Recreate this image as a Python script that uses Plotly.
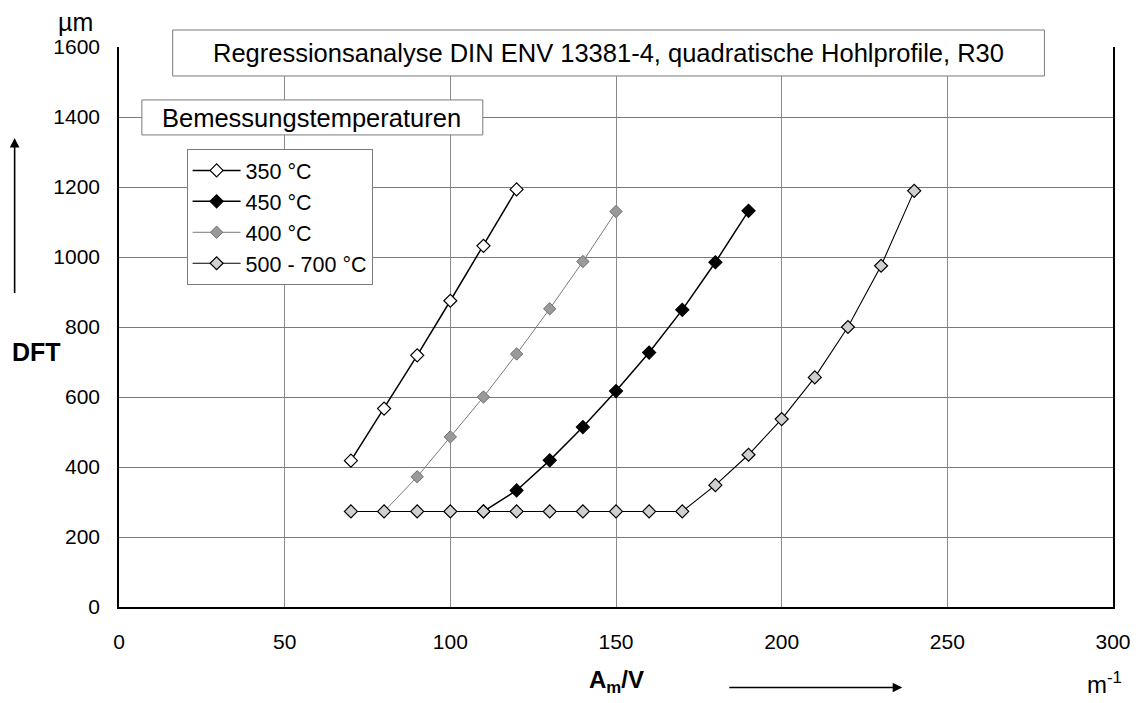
import plotly.graph_objects as go

# ---- data ----
x_350 = [70, 80, 90, 100, 110, 120]
y_350 = [418, 567, 719, 875, 1032, 1193]

x_450 = [110, 120, 130, 140, 150, 160, 170, 180, 190]
y_450 = [273, 333, 419, 514, 617, 727, 849, 985, 1132]

x_400 = [80, 90, 100, 110, 120, 130, 140, 150]
y_400 = [273, 372, 486, 600, 723, 852, 987, 1130]

x_500 = [70, 80, 90, 100, 110, 120, 130, 140, 150, 160, 170, 180, 190, 200, 210, 220, 230, 240]
y_500 = [273, 273, 273, 273, 273, 273, 273, 273, 273, 273, 273, 348, 435, 537, 656, 800, 975, 1189]

x_ticks = [0, 50, 100, 150, 200, 250, 300]
y_ticks = [0, 200, 400, 600, 800, 1000, 1200, 1400, 1600]

FONT = "Liberation Sans, Arial, sans-serif"

# page body has an 8px margin: figure spans page x 8..1143, y 8..703
OFF = 8
W, H = 1143 - OFF, 703 - OFF
# plot area in page pixels
L, R, T, B = 119, 1119, 47, 607.5


def px(xp):
    return (xp - L) / (R - L)


def py(yp):
    return (B - yp) / (B - T)


fig = go.Figure()
fig.add_trace(go.Scatter(
    x=x_350, y=y_350, name="350 °C", mode="lines+markers",
    line=dict(color="black", width=1.5),
    marker=dict(symbol="diamond", size=10, color="white", line=dict(color="black", width=1.2))))
fig.add_trace(go.Scatter(
    x=x_450, y=y_450, name="450 °C", mode="lines+markers",
    line=dict(color="black", width=1.5),
    marker=dict(symbol="diamond", size=10, color="black", line=dict(color="black", width=1.2))))
fig.add_trace(go.Scatter(
    x=x_400, y=y_400, name="400 °C", mode="lines+markers",
    line=dict(color="#7a7a7a", width=1),
    marker=dict(symbol="diamond", size=9.5, color="#9a9a9a", line=dict(color="#6e6e6e", width=1))))
fig.add_trace(go.Scatter(
    x=x_500, y=y_500, name="500 - 700 °C", mode="lines+markers",
    line=dict(color="black", width=1.1),
    marker=dict(symbol="diamond", size=10, color="#d0d0d0", line=dict(color="black", width=1.2))))

shapes = [
    dict(type="rect", xref="paper", yref="paper",
         x0=px(173), x1=px(1050), y0=py(76), y1=py(30),
         line=dict(color="#7a7a7a", width=1), fillcolor="white", layer="above"),
    dict(type="rect", xref="paper", yref="paper",
         x0=px(142), x1=px(485), y0=py(135), y1=py(100),
         line=dict(color="#7a7a7a", width=1), fillcolor="white", layer="above"),
]

annotations = [
    dict(text="Regressionsanalyse DIN ENV 13381-4, quadratische Hohlprofile, R30",
         xref="paper", yref="paper", x=px(611), y=py(53), showarrow=False,
         xanchor="center", yanchor="middle", font=dict(size=25.5, color="black", family=FONT)),
    dict(text="Bemessungstemperaturen",
         xref="paper", yref="paper", x=px(313), y=py(118), showarrow=False,
         xanchor="center", yanchor="middle", font=dict(size=25.5, color="black", family=FONT)),
    dict(text="<b>DFT</b>", xref="paper", yref="paper", x=px(36), y=py(352), showarrow=False,
         xanchor="center", yanchor="middle", font=dict(size=25, color="black", family=FONT)),
    dict(text="µm", xref="paper", yref="paper", x=px(75), y=py(22), showarrow=False,
         xanchor="center", yanchor="middle", font=dict(size=25, color="black", family=FONT)),
    dict(text="<b>A<sub>m</sub>/V</b>", xref="paper", yref="paper", x=px(619), y=py(682),
         showarrow=False, xanchor="center", yanchor="middle",
         font=dict(size=24, color="black", family=FONT)),
    dict(text="m<sup>-1</sup>", xref="paper", yref="paper", x=px(1110), y=py(684),
         showarrow=False, xanchor="center", yanchor="middle",
         font=dict(size=24, color="black", family=FONT)),
    # arrows
    dict(text=" ", xref="paper", yref="paper", x=px(14), y=py(138), ax=0, ay=162,
         showarrow=True, arrowhead=2, arrowsize=1.2, arrowwidth=1.6, arrowcolor="black",
         font=dict(size=10)),
    dict(text=" ", xref="paper", yref="paper", x=px(907), y=py(688), ax=-176, ay=0,
         showarrow=True, arrowhead=2, arrowsize=1.2, arrowwidth=1.6, arrowcolor="black",
         font=dict(size=10)),
]

fig.update_layout(
    width=W, height=H,
    margin=dict(l=L - OFF, r=1143 - R, t=T - OFF, b=703 - B, pad=0),
    paper_bgcolor="white", plot_bgcolor="white",
    font=dict(family=FONT, color="black"),
    showlegend=True,
    legend=dict(x=px(187), y=py(149), xanchor="left", yanchor="top",
                bordercolor="#7a7a7a", borderwidth=1, bgcolor="white",
                font=dict(size=21.5, family=FONT, color="black"),
                tracegroupgap=0, itemwidth=48),
    shapes=shapes,
    annotations=annotations,
    xaxis=dict(range=[0, 300], tickvals=x_ticks, ticktext=[str(v) for v in x_ticks],
               showgrid=True, gridcolor="#8a8a8a", gridwidth=1,
               showline=True, linecolor="black", linewidth=1.5, mirror=False,
               ticks="", zeroline=False, tickfont=dict(size=21, family=FONT, color="black"),
               ticklabelstandoff=15),
    yaxis=dict(range=[0, 1600], tickvals=y_ticks, ticktext=[str(v) for v in y_ticks],
               showgrid=True, gridcolor="#7a7a7a", gridwidth=1,
               showline=True, linecolor="black", linewidth=1.5, mirror=True,
               ticks="", zeroline=False, tickfont=dict(size=21, family=FONT, color="black"),
               ticklabelstandoff=13),
)

fig.write_html("out.html")
